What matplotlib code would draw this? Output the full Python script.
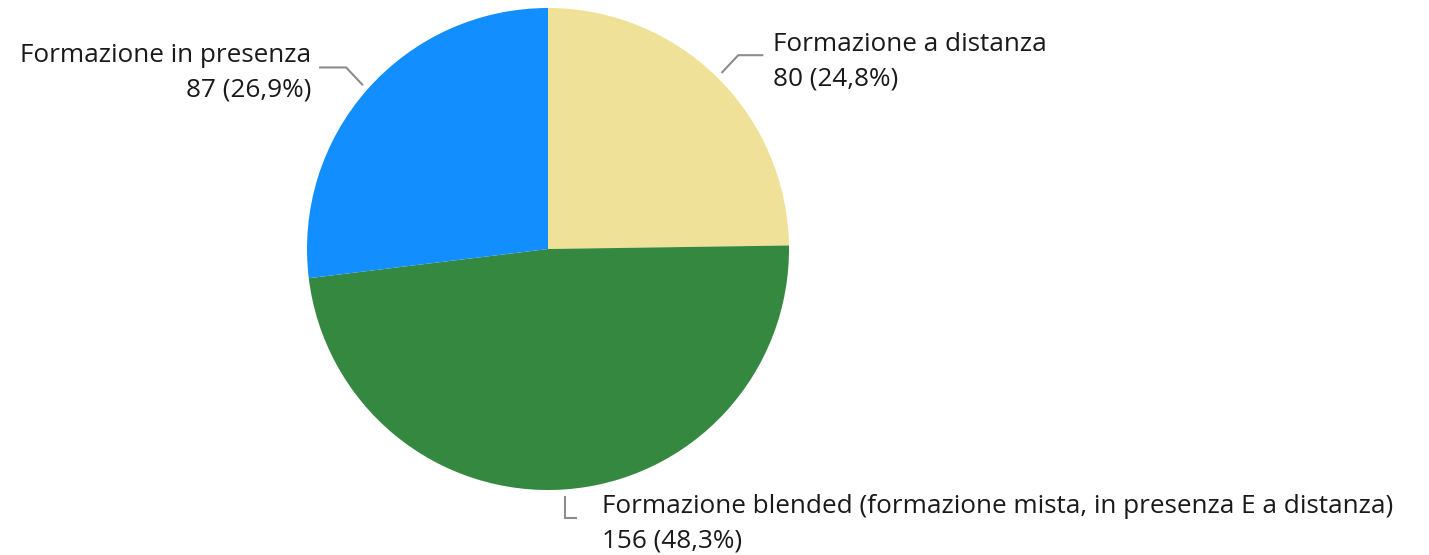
import numpy as np
import matplotlib
matplotlib.use('Agg')
import matplotlib.pyplot as plt

labels = ['Formazione a distanza',
          'Formazione blended (formazione mista, in presenza E a distanza)',
          'Formazione in presenza']
values = [80, 156, 87]
colors = ['#F0E199', '#358840', '#128EFF']

W, H = 1429, 555
CX, CY, R = 548, H - 249, 241

plt.rcParams['font.family'] = ['Open Sans', 'DejaVu Sans']

fig = plt.figure(figsize=(W / 100, H / 100), dpi=100)
ax = fig.add_axes([0, 0, 1, 1])

wedges, _ = ax.pie(values, colors=colors, startangle=90, counterclock=False,
                   center=(CX, CY), radius=R, frame=True,
                   wedgeprops=dict(linewidth=0))
ax.set_xlim(0, W)
ax.set_ylim(0, H)
ax.set_aspect('equal')
ax.axis('off')

total = sum(values)
# leader line: elbow offset, horizontal run, text offset (pixels)
layout = [
    dict(elbow=(16, 17), end=(24, 0), ha='left', tx=51, ty=-6.5),
    dict(elbow=(0, -21), end=(11, 0), ha='left', tx=37, ty=-6.5),
    dict(elbow=(-16, 17), end=(-26, 0), ha='right', tx=-51, ty=-5),
]
for w, v, lab, lay in zip(wedges, values, labels, layout):
    mid = np.deg2rad((w.theta1 + w.theta2) / 2)
    x0 = CX + 1.03 * R * np.cos(mid)
    y0 = CY + 1.03 * R * np.sin(mid)
    x1, y1 = x0 + lay['elbow'][0], y0 + lay['elbow'][1]
    x2, y2 = x1 + lay['end'][0], y1
    ax.plot([x0, x1, x2], [y0, y1, y2], color='#8C8C8C', lw=1.5,
            solid_joinstyle='miter', clip_on=False)
    pct = f"{100 * v / total:.1f}".replace('.', ',')
    ax.text(x0 + lay['tx'], y1 + lay['ty'], f"{lab}\n{v} ({pct}%)",
            ha=lay['ha'], va='center', multialignment=lay['ha'],
            fontsize=18.8, color='#1A1A1A', linespacing=1.5)

fig.savefig('out.png', dpi=100)
